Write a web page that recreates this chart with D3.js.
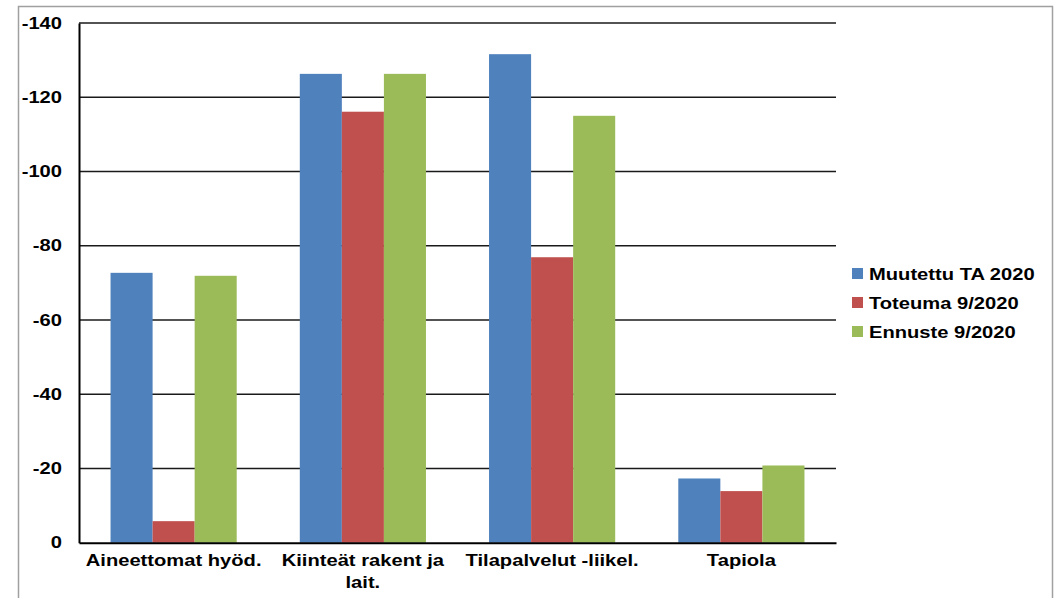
<!DOCTYPE html>
<html>
<head>
<meta charset="utf-8">
<script src="https://cdn.jsdelivr.net/npm/d3@7"></script>
<style>
  body { margin: 0; background: #fff; }
  text { font-family: "Liberation Sans", Arial, sans-serif; font-weight: bold; }
</style>
</head>
<body>
<div class="chart"></div>
<script>
var svgWidth = 1057;
var svgHeight = 598;

// data
var categories = ["Aineettomat hyöd.", "Kiinteät rakent ja lait.", "Tilapalvelut -liikel.", "Tapiola"];
var seriesNames = ["Muutettu TA 2020", "Toteuma 9/2020", "Ennuste 9/2020"];
var seriesColors = ["#4F81BD", "#C0504D", "#9BBB59"];
var muutettu = [-72.7, -126.3, -131.6, -17.3];
var toteuma = [-5.8, -116.1, -76.9, -13.9];
var ennuste = [-71.9, -126.3, -115.0, -20.8];
var yTicks = [0, -20, -40, -60, -80, -100, -120, -140];
// line breaks of category labels
var catLines = [["Aineettomat hyöd."], ["Kiinteät rakent ja", "lait."], ["Tilapalvelut -liikel."], ["Tapiola"]];

var series = [muutettu, toteuma, ennuste];
var stretch = 1.26; // the original text is drawn wide

var margin = { top: 23, left: 79 };
var width = 836 - 79;
var height = 542.7 - 23;

var svg = d3.select(".chart")
  .append("svg")
  .attr("width", svgWidth)
  .attr("height", svgHeight);

// outer frame
svg.append("rect")
  .attr("x", 18.5).attr("y", 6.5)
  .attr("width", 1052.5 - 18.5).attr("height", 620)
  .attr("fill", "none")
  .attr("stroke", "#a0a0a0")
  .attr("stroke-width", 1.5);

var chartGroup = svg.append("g")
  .attr("transform", `translate(${margin.left}, ${margin.top})`);

var xScale = d3.scaleBand()
  .domain(categories)
  .range([0, width]);

// inner band for the three bars, excel style gap width 150%
var xInner = d3.scaleBand()
  .domain(d3.range(series.length))
  .range([0, xScale.bandwidth() * 2 / 3]);

var yScale = d3.scaleLinear()
  .domain([0, -140])
  .range([height, 0]);

// gridlines
chartGroup.append("g")
  .selectAll("line")
  .data(yTicks.filter(t => t !== 0))
  .enter()
  .append("line")
  .attr("x1", 0).attr("x2", width)
  .attr("y1", d => yScale(d)).attr("y2", d => yScale(d))
  .attr("stroke", "#1a1a1a")
  .attr("stroke-width", 1.6);

// bars
series.forEach((vals, si) => {
  chartGroup.append("g")
    .selectAll("rect")
    .data(vals)
    .enter()
    .append("rect")
    .attr("x", (d, i) => xScale(categories[i]) + xScale.bandwidth() / 6 + xInner(si))
    .attr("width", xInner.bandwidth())
    .attr("y", d => yScale(d))
    .attr("height", d => yScale(0) - yScale(d))
    .attr("fill", seriesColors[si]);
});

// axes
var leftAxis = d3.axisLeft(yScale)
  .tickValues(yTicks)
  .tickSize(0)
  .tickFormat(d => String(d)); // plain hyphen minus
var yAxisG = chartGroup.append("g").attr("class", "yAxis").call(leftAxis);
yAxisG.select(".domain").attr("stroke", "#000").attr("stroke-width", 2);
yAxisG.selectAll("text")
  .attr("x", -17 / stretch)
  .attr("transform", `scale(${stretch},1)`)
  .attr("font-size", "16px")
  .attr("font-family", "Liberation Sans, Arial, sans-serif")
  .attr("font-weight", "bold")
  .attr("fill", "#000");

var bottomAxis = d3.axisBottom(xScale).tickSize(0).tickFormat("");
var xAxisG = chartGroup.append("g")
  .attr("class", "xAxis")
  .attr("transform", `translate(0, ${height})`)
  .call(bottomAxis);
xAxisG.select(".domain").attr("stroke", "#000").attr("stroke-width", 2);

// category labels
categories.forEach((c, i) => {
  var cx = xScale(c) + xScale.bandwidth() / 2;
  var t = chartGroup.append("text")
    .attr("transform", `translate(${cx}, ${height + 23}) scale(${stretch},1)`)
    .attr("text-anchor", "middle")
    .attr("font-size", "16px")
    .attr("fill", "#000");
  catLines[i].forEach((ln, k) => {
    t.append("tspan")
      .attr("x", 0)
      .attr("dy", k === 0 ? 0 : 22)
      .text(ln);
  });
});

// legend
var legend = svg.append("g").attr("transform", "translate(852, 268)");
seriesNames.forEach((name, i) => {
  var row = legend.append("g").attr("transform", `translate(0, ${i * 29})`);
  row.append("rect")
    .attr("width", 11).attr("height", 11)
    .attr("fill", seriesColors[i]);
  row.append("text")
    .attr("transform", `translate(17, 11.5) scale(${stretch},1)`)
    .attr("font-size", "16px")
    .attr("fill", "#000")
    .text(name);
});
</script>
</body>
</html>
